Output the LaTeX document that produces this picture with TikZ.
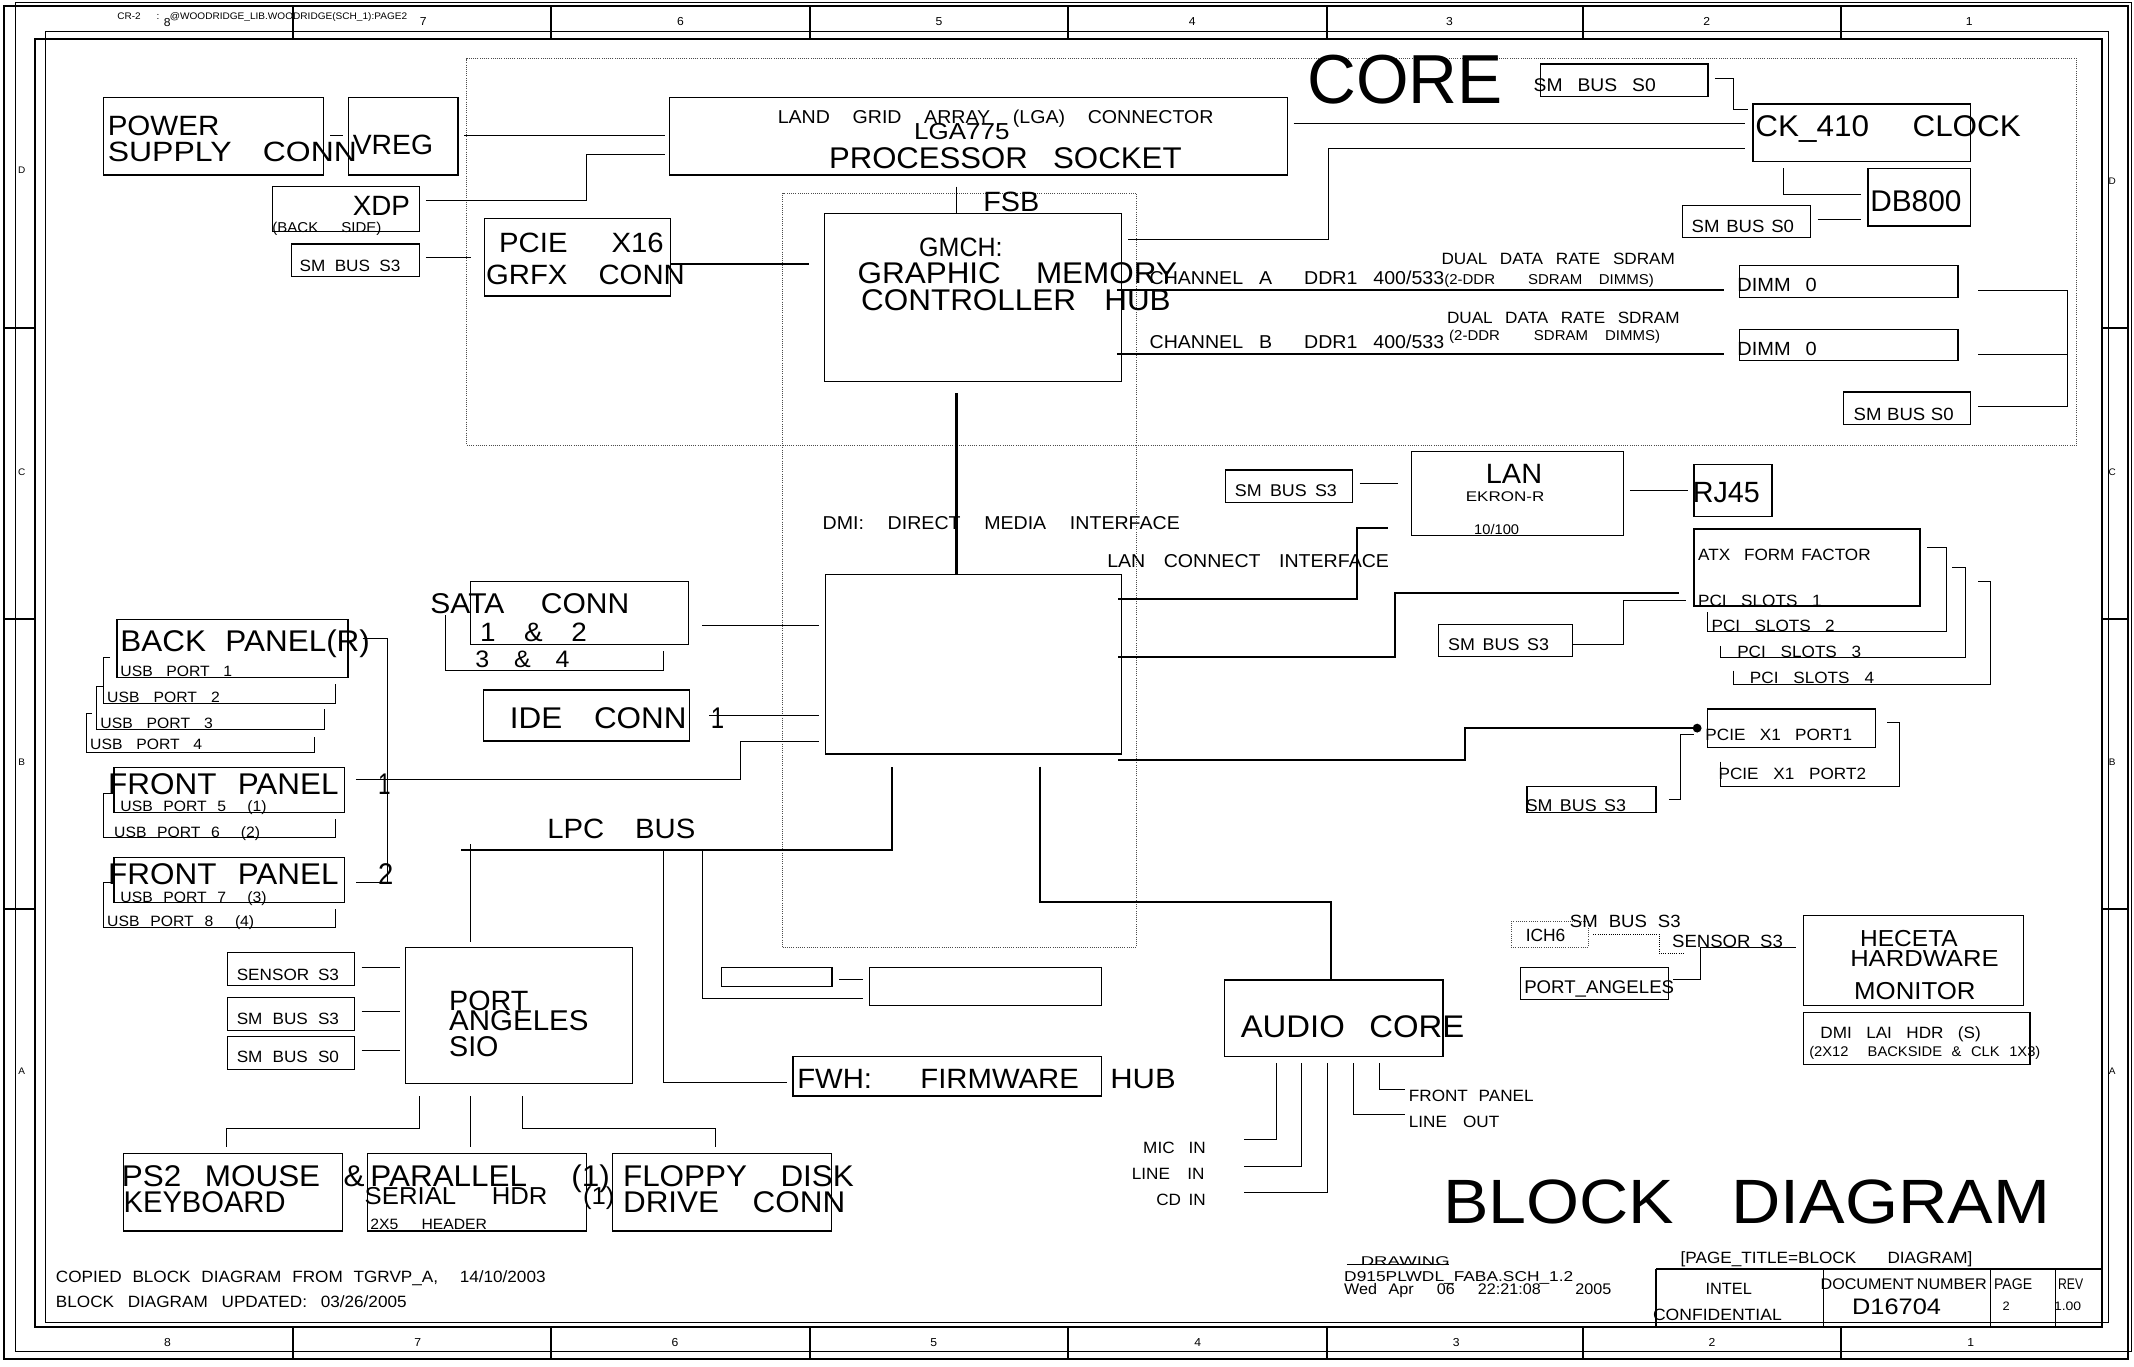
\documentclass[tikz,border=0pt]{standalone}
\usepackage{fontspec}
\usepackage{graphicx}
\setmainfont{Liberation Sans}[FakeStretch=1.05]
\tikzset{
  boxst/.style={draw, line width=0.9pt, inner sep=0pt, rectangle},
  dotbox/.style={draw=black!70, densely dotted, line width=0.6pt, inner sep=0pt, rectangle},
  wire/.style={line width=0.7pt},
  bus/.style={line width=1.5pt},
  dwire/.style={line width=0.6pt, densely dotted},
  frthick/.style={line width=1.4pt},
  frthin/.style={line width=0.6pt},
}
\newcommand\mybox[5]{\node[boxst, minimum width={(#4-#2)*1pt}, minimum height={(#5-#3)*1pt}] (#1) at ({(#2+#4)/2},{(#3+#5)/2}) {};}
\newcommand\mydbox[5]{\node[dotbox, minimum width={(#4-#2)*1pt}, minimum height={(#5-#3)*1pt}] (#1) at ({(#2+#4)/2},{(#3+#5)/2}) {};}
% spread text: spaces stretch to fill x1..x2; shrink horizontally if too wide
\newcommand\mytext[6]{\pgfmathsetmacro\mytw{#3-#2}%
  \setbox0=\hbox{\fontsize{#5}{#5}\selectfont #6}%
  \ifdim\wd0>\mytw pt
    \node[anchor=base west, inner sep=0pt, font=\fontsize{#5}{#5}\selectfont] (#1) at (#2,{#4+0.358*#5}) {\resizebox{\mytw pt}{\height}{#6}};%
  \else
    \node[anchor=base west, inner sep=0pt, font=\fontsize{#5}{#5}\selectfont] (#1) at (#2,{#4+0.358*#5}) {\makebox[\mytw pt][s]{#6}};%
  \fi}
% width text: scaled horizontally to exactly x1..x2
\newcommand\mywtext[6]{\pgfmathsetmacro\mytw{#3-#2}%
  \node[anchor=base west, inner sep=0pt, font=\fontsize{#5}{#5}\selectfont] (#1) at (#2,{#4+0.358*#5}) {\resizebox{\mytw pt}{\height}{#6}};}
\newcommand\ctext[5]{\node[anchor=base, inner sep=0pt, font=\fontsize{#4}{#4}\selectfont] (#1) at (#2,{#3+0.358*#4}) {#5};}
\begin{document}
\begin{tikzpicture}[x=1pt,y=-1pt]
\useasboundingbox (0,0) rectangle (1568,1004);
\fill[white] (0,0) rectangle (1568,1004);
% ---------- frame ----------
\draw[frthick] (3,4.4) rectangle (1563.6,998.5);
\draw[frthin] (11.5,2) rectangle (1566,993);
\draw[frthick] (26,28.7) rectangle (1544.2,974.8);
\draw[frthin] (33,23.3) rectangle (1549,971.8);
\foreach \cx in {215,405,595,785,975,1163,1353}{
  \draw[frthick] (\cx,4.4) -- (\cx,28.7);
  \draw[frthick] (\cx,974.8) -- (\cx,998.5);
}
\foreach \zy in {241,455,668}{
  \draw[frthick] (3,\zy) -- (26,\zy);
  \draw[frthick] (1544.2,\zy) -- (1563.6,\zy);
}
\ctext{ztl1}{16}{125}{7}{D}
\ctext{ztl2}{16}{347}{7}{C}
\ctext{ztl3}{16}{560}{7}{B}
\ctext{ztl4}{16}{787}{7}{A}
\ctext{ztr1}{1552}{133}{7}{D}
\ctext{ztr2}{1552}{347}{7}{C}
\ctext{ztr3}{1552}{560}{7}{B}
\ctext{ztr4}{1552}{787}{7}{A}
\mytext{tcr}{86}{117}{12}{7}{CR-2~~~:}
\ctext{tc8}{122.8}{16.5}{8.5}{8}
\mywtext{twood}{124.6}{299}{12}{7}{@WOODRIDGE\_LIB.WOODRIDGE(SCH\_1):PAGE2}
\ctext{tc7}{311}{15.7}{8.5}{7}
\ctext{tc6}{500}{15.7}{8.5}{6}
\ctext{tc5}{690}{15.7}{8.5}{5}
\ctext{tc4}{876}{15.7}{8.5}{4}
\ctext{tc3}{1065}{15.7}{8.5}{3}
\ctext{tc2}{1254}{15.7}{8.5}{2}
\ctext{tc1}{1447}{15.7}{8.5}{1}
\ctext{bc8}{123}{986}{8.5}{8}
\ctext{bc7}{307}{986}{8.5}{7}
\ctext{bc6}{496}{986}{8.5}{6}
\ctext{bc5}{686}{986}{8.5}{5}
\ctext{bc4}{880}{986}{8.5}{4}
\ctext{bc3}{1070}{986}{8.5}{3}
\ctext{bc2}{1258}{986}{8.5}{2}
\ctext{bc1}{1448}{986}{8.5}{1}
% ---------- dotted regions ----------
\mydbox{dcore}{343}{43}{1526}{327}
\mydbox{dgmch}{575}{142}{835}{696}
\mydbox{dich6}{1110.2}{677.2}{1166.8}{696}
% ---------- boxes ----------
\mybox{bpower}{76.1}{71.8}{237.5}{128.6}
\mybox{bvreg}{255.9}{71.8}{336.5}{128.6}
\mybox{bxdp}{200.1}{137.2}{308.3}{170}
\mybox{bsml}{213.9}{179.3}{308.3}{203.3}
\mybox{bpcie}{355.9}{160.4}{492.7}{217.5}
\mybox{blga}{492}{71.5}{946}{128.5}
\mybox{bgmch}{606}{156.7}{824}{280.4}
\mybox{bck}{1288}{76.4}{1448}{118.8}
\mybox{bsmt}{1132}{47}{1255}{71}
\mybox{bdb}{1372.5}{123.7}{1448}{166}
\mybox{bsmm}{1236}{151}{1330}{174.6}
\mybox{bdma}{1278}{195}{1438.7}{218.5}
\mybox{bdmb}{1278}{242}{1438.7}{265}
\mybox{bsmb}{1354.7}{288}{1448}{311.8}
\mybox{bich}{606.5}{422}{824}{554}
\mybox{blan}{1037}{332}{1193}{393.3}
\mybox{bsmlan}{900.4}{345.3}{994}{369}
\mybox{brj}{1244.7}{341.4}{1302}{379.6}
\mybox{batx}{1244.7}{388.7}{1410.7}{445.3}
\mybox{bsmpci}{1057}{458.7}{1155.3}{482.2}
\mybox{bpx1}{1254.7}{521}{1377.8}{549.4}
\mybox{bsmpx}{1122}{578}{1216.8}{596.9}
\mybox{bback}{86}{455}{255.7}{497.7}
\mybox{bfp1}{83.7}{564}{253}{597}
\mybox{bfp2}{83.7}{630}{253}{663.2}
\mybox{bsata}{345.8}{427}{506}{473.4}
\mybox{bide}{355.2}{507}{506.7}{544.5}
\mybox{bsm1}{530}{710.7}{611.3}{725}
\mybox{bsm2}{639}{710.7}{809.3}{739}
\mybox{bfwh}{582.6}{776.4}{809.3}{805.3}
\mybox{bsio}{298.2}{696}{464.8}{796}
\mybox{bsen}{167}{699.7}{260.7}{724}
\mybox{bsm3}{167}{733}{260.7}{757}
\mybox{bsm0}{167}{761.4}{260.7}{785.7}
\mybox{bps2}{90.7}{847.4}{251.8}{904.5}
\mybox{bpar}{270}{847.4}{431}{904.5}
\mybox{bflp}{450}{847.4}{611}{904.5}
\mybox{baud}{899.8}{720}{1060.3}{776.4}
\mybox{bhec}{1325.3}{672.8}{1486.7}{739}
\mybox{bdmil}{1325.3}{743.8}{1491.5}{782}
\mybox{bpa}{1117.4}{710.7}{1226}{734.3}
% ---------- connectors ----------
\draw[wire] (242.6,99.2) -- (251.8,99.2);
\draw[wire] (341,99.9) -- (488.5,99.9);
\draw[wire] (313,147.4) -- (431,147.4) -- (431,113.4) -- (488.5,113.4);
\draw[wire] (313,189.3) -- (346,189.3);
\draw[bus] (492.7,194.2) -- (594.5,194.2);
\draw[wire] (702.8,137.2) -- (702.8,156.7);
\draw[bus] (702.8,289) -- (702.8,422);
\draw[wire] (950.5,90.6) -- (1282,90.6);
\draw[wire] (829,175.8) -- (975.8,175.8) -- (975.8,109) -- (1282,109);
\draw[wire] (1260,57.5) -- (1273.5,57.5) -- (1273.5,80.8) -- (1284,80.8);
\draw[wire] (1310.6,123.7) -- (1310.6,142.6) -- (1367.4,142.6);
\draw[wire] (1335.5,161.6) -- (1367.4,161.6);
\draw[bus] (820.7,213.1) -- (1266.7,213.1);
\draw[bus] (820.7,260.1) -- (1266.7,260.1);
\draw[wire] (1453.6,213.1) -- (1519.3,213.1) -- (1519.3,298.8) -- (1453.6,298.8);
\draw[wire] (1453.6,260.1) -- (1519.3,260.1);
\draw[bus] (821.6,440.4) -- (996.8,440.4) -- (996.8,388.2) -- (1020,388.2);
\draw[bus] (821.6,483) -- (1025.3,483) -- (1025.3,436) -- (1233.4,436);
\draw[bus] (821.6,558.4) -- (1076.7,558.4) -- (1076.7,535) -- (1247,535);
\node[circle, fill, inner sep=0pt, minimum size=6.5pt] (pdot) at (1247,535) {};
\draw[wire] (999,355) -- (1027,355);
\draw[wire] (1197.6,360.5) -- (1240,360.5);
\draw[wire] (1155.3,473.4) -- (1193,473.4) -- (1193,441) -- (1239,441);
\draw[wire] (1254.7,450) -- (1254.7,464) -- (1430,464) -- (1430,402.4) -- (1415.6,402.4);
\draw[wire] (1264.3,474.6) -- (1264.3,483.2) -- (1443.8,483.2) -- (1443.8,417) -- (1434.5,417);
\draw[wire] (1273.5,492.8) -- (1273.5,502.6) -- (1462.7,502.6) -- (1462.7,427) -- (1453.4,427);
\draw[wire] (1264.3,559.6) -- (1264.3,578) -- (1396,578) -- (1396,530.7) -- (1386.5,530.7);
\draw[wire] (1226.3,587.3) -- (1235,587.3) -- (1235,539.3) -- (1244.7,539.3);
% USB brackets
\draw[wire] (81,483.2) -- (76.2,483.2) -- (76.2,516.8) -- (246.6,516.8) -- (246.6,502.6);
\draw[wire] (75.9,504.5) -- (71.2,504.5) -- (71.2,535.9) -- (238.2,535.9) -- (238.2,521.2);
\draw[wire] (67.5,524.6) -- (63.8,524.6) -- (63.8,553) -- (230.7,553) -- (230.7,541.3);
\draw[wire] (83.7,583) -- (76.2,583) -- (76.2,615.5) -- (246.6,615.5) -- (246.6,602);
\draw[wire] (83.7,648.5) -- (76.2,648.5) -- (76.2,681.6) -- (246.6,681.6) -- (246.6,668.2);
\draw[wire] (266.5,469) -- (284.4,469) -- (284.4,648.5) -- (261.5,648.5);
\draw[wire] (261.5,573) -- (544.3,573) -- (544.3,545) -- (601.7,545);
% SATA / IDE
\draw[wire] (327.2,451.9) -- (327.2,493) -- (487.5,493) -- (487.5,478.1);
\draw[wire] (516,459.7) -- (601.7,459.7);
\draw[wire] (521,525.8) -- (601.7,525.8);
% LPC
\draw[bus] (338.9,624.5) -- (655.6,624.5) -- (655.6,563.3);
\draw[wire] (345.6,620.4) -- (345.6,692);
\draw[wire] (487.7,624.5) -- (487.7,795.5) -- (578,795.5);
\draw[wire] (516.2,624.5) -- (516.2,734) -- (634,734);
\draw[wire] (616.3,720) -- (634,720);
\draw[bus] (764.4,563.3) -- (764.4,662.5) -- (978,662.5) -- (978,719.6);
% SIO
\draw[wire] (265.7,710.7) -- (294,710.7);
\draw[wire] (265.7,743.5) -- (294,743.5);
\draw[wire] (265.7,772) -- (294,772);
\draw[wire] (307.9,805.3) -- (307.9,829) -- (166.6,829) -- (166.6,843);
\draw[wire] (345.9,805.3) -- (345.9,843);
\draw[wire] (383.8,805.3) -- (383.8,829) -- (526,829) -- (526,843);
% audio
\draw[wire] (937.6,781.3) -- (937.6,837.6) -- (913.9,837.6);
\draw[wire] (956,781.3) -- (956,857.2) -- (913.9,857.2);
\draw[wire] (975.5,781.3) -- (975.5,876.3) -- (913.9,876.3);
\draw[wire] (994.8,781.3) -- (994.8,819.2) -- (1032.2,819.2);
\draw[wire] (1013.7,781.3) -- (1013.7,800.4) -- (1032.2,800.4);
% heceta
\draw[dwire] (1170.7,686.3) -- (1219.2,686.3) -- (1219.2,700.5) -- (1237.2,700.5);
\draw[wire] (1249.3,696) -- (1319.6,696);
\draw[wire] (1249.3,696) -- (1249.3,720) -- (1228.9,720);
% title block
\draw[frthick] (1216.8,932.6) -- (1544.2,932.6);
\draw[frthick] (1216.8,932.6) -- (1216.8,974.8);
\draw[frthin] (1340,932.6) -- (1340,974.8);
\draw[frthin] (1462.5,932.6) -- (1462.5,974.8);
\draw[frthin] (1510,932.6) -- (1510,974.8);
\draw[wire] (989.7,929) -- (1065,929);
% ---------- texts ----------
\mywtext{tpw1}{79}{161}{92}{20.5}{POWER}
\mywtext{tpw2}{79}{170}{111}{20.5}{SUPPLY}
\mywtext{tpw3}{193}{262}{111}{20.5}{CONN}
\mywtext{tvreg}{259}{318}{106}{20.5}{VREG}
\mywtext{txdp}{259}{301}{151}{20.5}{XDP}
\mytext{tbs}{200}{280}{167}{10.5}{(BACK SIDE)}
\mytext{tsml}{220}{294}{195.5}{12}{SM BUS S3}
\mytext{tpcie1}{366.6}{487.5}{178}{20.5}{PCIE X16}
\mytext{tpcie2}{357}{503}{201.6}{20.5}{GRFX CONN}
\mytext{tlga1}{571.3}{891.5}{85.7}{13.7}{LAND GRID ARRAY (LGA) CONNECTOR}
\mywtext{tlga2}{671.5}{741.6}{96.7}{17}{LGA775}
\mywtext{tlga3}{609}{755}{115.7}{22}{PROCESSOR}
\mywtext{tlga4}{773.6}{868}{115.7}{22}{SOCKET}
\mywtext{tcore}{960.5}{1104}{57.5}{51}{CORE}
\mytext{tsmt}{1126.7}{1216.4}{62.5}{13.5}{SM BUS S0}
\mytext{tck}{1289.6}{1484.7}{92.5}{22}{CK\_410 CLOCK}
\mywtext{tdb}{1374}{1441}{147.6}{22}{DB800}
\mytext{tsmm}{1242.8}{1318}{166.3}{13}{SM BUS S0}
\mytext{tdda}{1059}{1230.5}{190.4}{12}{DUAL DATA RATE SDRAM}
\mytext{tdda2}{1061}{1215}{205.4}{10.5}{(2-DDR~~SDRAM DIMMS)}
\mytext{tcha}{844.5}{1061}{204}{13.7}{CHANNEL A~~DDR1 400/533}
\mytext{tddb}{1063}{1234}{233.3}{12}{DUAL DATA RATE SDRAM}
\mytext{tddb2}{1064.6}{1219.6}{246.7}{10.5}{(2-DDR~~SDRAM DIMMS)}
\mytext{tchb}{844.5}{1061}{250.8}{13.7}{CHANNEL B~~DDR1 400/533}
\mytext{tdma}{1276.4}{1334.6}{209.4}{14}{DIMM 0}
\mytext{tdmb}{1276.4}{1334.6}{256}{14}{DIMM 0}
\mytext{tsmb}{1361.8}{1435.3}{304}{13}{SM BUS S0}
\mywtext{tfsb}{722.3}{763.4}{148}{20.5}{FSB}
\mywtext{tg1}{675.2}{736.5}{181.5}{19.5}{GMCH:}
\mytext{tg2}{630}{864.6}{200.2}{22}{GRAPHIC MEMORY}
\mytext{tg3}{632.6}{860}{220.2}{22}{CONTROLLER HUB}
\mytext{tdmi}{604.3}{866.7}{384}{13.7}{DMI: DIRECT MEDIA INTERFACE}
\mytext{tlci}{813.4}{1020.4}{412.3}{13.7}{LAN CONNECT INTERFACE}
\mywtext{tlan}{1091.6}{1132.9}{347.8}{20.5}{LAN}
\mywtext{tekr}{1076.8}{1134.5}{365}{10.3}{EKRON-R}
\mywtext{t10}{1083}{1116}{388.8}{10.3}{10/100}
\mytext{tsmlan}{907.2}{982.1}{360.6}{12.5}{SM BUS S3}
\mywtext{trj}{1243.7}{1292.9}{361.6}{21.5}{RJ45}
\mytext{tatx}{1247.5}{1374.3}{407.7}{12}{ATX~~FORM FACTOR}
\mytext{tpci1}{1247.5}{1338.2}{441.5}{12}{PCI SLOTS 1}
\mytext{tpci2}{1257.4}{1347.9}{459.8}{12}{PCI SLOTS 2}
\mytext{tpci3}{1276.3}{1367.4}{479}{12}{PCI SLOTS 3}
\mytext{tpci4}{1285.6}{1376.8}{497.8}{12}{PCI SLOTS 4}
\mytext{tsmpci}{1063.8}{1138}{473.5}{12.5}{SM BUS S3}
\mytext{tpx1}{1252.9}{1360.6}{539.7}{12}{PCIE X1 PORT1}
\mytext{tpx2}{1262.6}{1370.9}{568.4}{12}{PCIE X1 PORT2}
\mytext{tsmpx}{1120.9}{1194.5}{591.8}{12.5}{SM BUS S3}
\mytext{tback}{88.3}{271.6}{470.5}{22}{BACK PANEL(R)}
\mytext{tu1}{88.3}{170.4}{493.3}{11}{USB PORT 1}
\mytext{tu2}{78.6}{161.3}{512.1}{11}{USB PORT 2}
\mytext{tu3}{73.6}{156.2}{531}{11}{USB PORT 3}
\mytext{tu4}{66.1}{148.4}{546.5}{11}{USB PORT 4}
\mytext{tfp1}{79.3}{248.6}{576.2}{22}{FRONT PANEL}
\mytext{tu5}{88.3}{195.7}{592.3}{11}{USB PORT 5~~(1)}
\mytext{tu6}{83.7}{191}{611.5}{11}{USB PORT 6~~(2)}
\mytext{tfp2}{79.3}{248.6}{642.3}{22}{FRONT PANEL}
\mytext{tu7}{88.3}{195.7}{659.2}{11}{USB PORT 7~~(3)}
\mytext{tu8}{78.6}{186.6}{676.8}{11}{USB PORT 8~~(4)}
\mywtext{tone}{277.6}{286.8}{576.2}{22}{1}
\mywtext{ttwo}{277.6}{288.8}{642.3}{22}{2}
\mytext{tsata}{316.1}{462.2}{443.4}{21}{SATA CONN}
\mytext{ts12}{352.5}{431.1}{464.1}{19.5}{1 \& 2}
\mytext{ts34}{349.1}{418.3}{484}{17.5}{3 \& 4}
\mytext{tide}{374.5}{504.3}{527.2}{22}{IDE CONN}
\mywtext{tide1}{522.2}{532}{527.2}{22}{1}
\mytext{tlpc}{402}{510.7}{608.6}{20.5}{LPC BUS}
\mytext{tfwh}{585.6}{792.5}{792.3}{20.5}{FWH: FIRMWARE}
\mywtext{tfwh2}{815.6}{863.7}{792.3}{20.5}{HUB}
\mywtext{tsio1}{329.8}{388}{734.8}{20.5}{PORT}
\mywtext{tsio2}{329.8}{432.3}{749.7}{21}{ANGELES}
\mywtext{tsio3}{329.8}{366.1}{769}{21}{SIO}
\mytext{tsen}{173.8}{248.9}{715.8}{12}{SENSOR S3}
\mytext{tsm3}{173.8}{248.9}{748.8}{12}{SM BUS S3}
\mytext{tsm0}{173.8}{248.9}{776.5}{12}{SM BUS S0}
\mytext{tps1}{89.4}{267.8}{864}{22}{PS2 MOUSE \&}
\mywtext{tps2}{90.7}{209.6}{882.7}{22}{KEYBOARD}
\mytext{tpar1}{272}{447.9}{864}{22}{PARALLEL (1)}
\mytext{tpar2}{267.8}{451.3}{878.3}{18}{SERIAL HDR (1)}
\mytext{tpar3}{272}{357.7}{899.8}{11}{2X5 HEADER}
\mytext{tflp1}{457.6}{627.2}{864}{22}{FLOPPY DISK}
\mytext{tflp2}{457.6}{620.9}{882.7}{22}{DRIVE CONN}
\mytext{tcop}{40.9}{400.7}{938.2}{12}{COPIED BLOCK DIAGRAM FROM TGRVP\_A,~~14/10/2003}
\mytext{tupd}{40.9}{298.6}{956.4}{12}{BLOCK DIAGRAM UPDATED:~03/26/2005}
\mytext{taud}{911.5}{1075.7}{754}{23}{AUDIO CORE}
\mytext{tafp}{1035}{1126.7}{805.2}{12}{FRONT PANEL}
\mytext{talo}{1035}{1101.4}{824}{12}{LINE OUT}
\mytext{tmic}{839.8}{885.7}{843.1}{12}{MIC IN}
\mytext{tlin}{831.5}{884.8}{862.2}{12}{LINE IN}
\mytext{tcd}{849.4}{885.7}{881.6}{12}{CD IN}
\mywtext{tich6}{1120.9}{1150}{687}{13}{ICH6}
\mytext{tsmh}{1153.3}{1234.7}{676.8}{13}{SM BUS S3}
\mytext{tsenh}{1228.4}{1309.8}{691.5}{13}{SENSOR S3}
\mywtext{tpa}{1119.8}{1229.9}{725}{13.5}{PORT\_ANGELES}
\mywtext{thec1}{1366.6}{1438.3}{689.5}{17}{HECETA}
\mywtext{thec2}{1359.3}{1468.3}{704.1}{17}{HARDWARE}
\mywtext{thec3}{1362.2}{1451.4}{727.8}{18}{MONITOR}
\mytext{tdmil}{1337.4}{1455.2}{758.6}{12}{DMI LAI HDR (S)}
\mytext{tdmil2}{1329.2}{1499}{772.7}{10.3}{(2X12~~BACKSIDE \& CLK 1X3)}
\mywtext{tbd1}{1060.2}{1230}{882.3}{46}{BLOCK}
\mywtext{tbd2}{1272}{1506.2}{882.3}{46}{DIAGRAM}
\mywtext{tdrw}{999.7}{1065}{926.6}{9.3}{DRAWING}
\mywtext{tdsch}{987.5}{1155.8}{938}{10.5}{D915PLWDL\_FABA.SCH\_1.2}
\mytext{twed}{987.5}{1183.8}{947.4}{11.3}{Wed Apr~~06~~22:21:08~~~2005}
\mytext{tpt}{1234.7}{1449}{924}{12}{[PAGE\_TITLE=BLOCK~~DIAGRAM]}
\mywtext{tint}{1253}{1287}{947.2}{12}{INTEL}
\mywtext{tconf}{1214.4}{1309}{965.6}{12}{CONFIDENTIAL}
\mytext{tdoc}{1337.5}{1450.4}{943.3}{11.3}{DOCUMENT NUMBER}
\mywtext{tdnum}{1360.7}{1426}{959.7}{16.5}{D16704}
\mywtext{tpage}{1465}{1493}{943.3}{11.3}{PAGE}
\ctext{tpg2}{1474}{959.7}{9}{2}
\mywtext{trev}{1512}{1530.4}{943.3}{11.3}{REV}
\mywtext{trevn}{1509}{1529}{959.7}{9}{1.00}
\end{tikzpicture}
\end{document}
